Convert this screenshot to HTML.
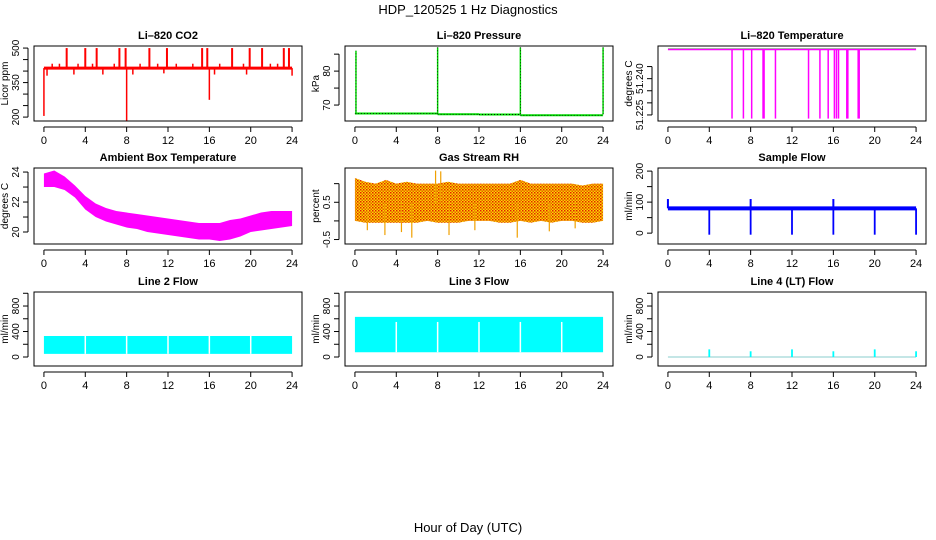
<!DOCTYPE html>
<html><head><meta charset="utf-8"><style>
body{margin:0;background:#fff}
svg{display:block;font-family:"Liberation Sans",sans-serif}
</style></head><body>
<svg id="c" width="936" height="540" viewBox="0 0 936 540" xmlns="http://www.w3.org/2000/svg">
<text x="468" y="14" font-size="13" text-anchor="middle">HDP_120525  1 Hz Diagnostics</text>
<text x="468" y="532" font-size="13" text-anchor="middle">Hour of Day (UTC)</text>
</svg>
<script>
const hours=[0,4,8,12,16,20,24];
const co2Base=413;
const co2Spikes=[2.2,4.0,5.1,7.3,7.9,10.2,11.9,15.3,15.8,18.2,19.9,21.1,23.2,23.7];
const co2Small=[0.8,1.5,3.3,4.7,6.8,9.3,11.0,12.8,14.4,17.0,19.3,21.9,22.6];
const co2Dips=[[0,205],[8,183],[16,275],[0.3,380],[2.9,385],[5.7,385],[8.6,385],[11.6,390],[16.5,385],[19.6,385],[24,380]];
const presBase=[67.5,67.5,67.3,67.2,67.0,67.0,67.2];
const presSpikes=[[0.1,86],[8,87],[16,87],[24,87]];
const tempBase=51.252;
const tempDrops=[6.2,7.3,8.1,9.2,9.3,10.4,13.6,14.7,15.5,16.1,16.3,16.5,17.3,17.4,18.4,18.5];
const ambHours=[0,1,2,3,4,5,6,7,8,9,10,11,12,13,14,15,16,17,18,19,20,21,22,23,24];
const ambUpper=[23.9,24.1,23.7,23.1,22.4,21.9,21.6,21.4,21.3,21.2,21.1,21.0,20.9,20.8,20.7,20.6,20.6,20.6,20.8,20.9,21.1,21.3,21.4,21.4,21.4];
const ambLower=[23.0,23.0,22.8,22.3,21.5,21.0,20.7,20.5,20.3,20.2,20.0,19.9,19.8,19.7,19.6,19.5,19.5,19.4,19.5,19.7,20.0,20.1,20.2,20.3,20.4];
const rhUpper=[1.15,1.05,1.0,1.1,1.0,1.05,1.0,1.0,1.0,1.05,1.0,1.0,1.0,1.0,1.0,1.0,1.1,1.0,1.0,1.0,1.0,1.0,0.95,1.0,1.0];
const rhLower=[0.0,-0.05,-0.05,-0.05,-0.05,-0.05,-0.05,0,-0.05,-0.05,-0.05,0,0,0,-0.05,-0.05,0,-0.05,0,-0.05,0,0,-0.05,-0.05,0];
const rhSpikes=[[1.2,-0.25],[2.9,-0.38],[4.5,-0.3],[5.5,-0.45],[7.8,1.35],[8.3,1.33],[9.1,-0.38],[11.6,-0.25],[15.7,-0.45],[18.8,-0.28],[21.3,-0.2]];
const sfBase=80;
const sfDips=[4,8,12,16,20,24];
const sfPeaks=[[0,110],[8,110],[16,110]];
const l2Upper=330, l2Lower=50;
const l3Upper=630, l3Lower=75;
const gapHours=[4,8,12,16,20];
const l4Spikes=[[4,120],[12,120],[20,120],[8,90],[16,90],[24,90]];

const svg=document.getElementById('c');
const NS='http://www.w3.org/2000/svg';
function el(t,a,p){const e=document.createElementNS(NS,t);for(const k in a)e.setAttribute(k,a[k]);(p||svg).appendChild(e);return e;}
const cols=[{l:34,r:302},{l:345,r:613},{l:658,r:926}];
const rows=[{t:46,b:121},{t:168,b:244},{t:292,b:366}];
function panel(ci,ri,title,ylab,ymin,ymax,ticks,labels,name){
  const c=cols[ci],r=rows[ri];
  const g=el('g',{});
  
  
  const x0=c.l+(c.r-c.l)*0.04/1.08, x1=c.r-(c.r-c.l)*0.04/1.08;
  const X=h=>x0+(x1-x0)*h/24;
  const Y=v=>r.b-(v-ymin)/(ymax-ymin)*(r.b-r.t);
  const t=el('text',{x:(c.l+c.r)/2,y:r.t-7,'font-size':11,'font-weight':'bold','text-anchor':'middle'},g);t.textContent=title;
  
  const marks=el('g',{},g);
  el('rect',{x:c.l,y:r.t,width:c.r-c.l,height:r.b-r.t,fill:'none',stroke:'#000','stroke-width':1},g);
  const xa=el('g',{},g);
  
  el('line',{x1:X(0),x2:X(24),y1:r.b+6,y2:r.b+6,stroke:'#000'},xa);
  hours.forEach(h=>{el('line',{x1:X(h),x2:X(h),y1:r.b+6,y2:r.b+11,stroke:'#000'},xa);
    const tt=el('text',{x:X(h),y:r.b+23,'font-size':11,'text-anchor':'middle'},xa);tt.textContent=h;});
  const ya=el('g',{},g);
  
  el('line',{x1:c.l-6,x2:c.l-6,y1:Y(ticks[0]),y2:Y(ticks[ticks.length-1]),stroke:'#000'},ya);
  ticks.forEach(v=>el('line',{x1:c.l-6,x2:c.l-11,y1:Y(v),y2:Y(v),stroke:'#000'},ya));
  labels.forEach(v=>{const tt=el('text',{x:c.l-15,y:Y(v),'font-size':10,'text-anchor':'middle',transform:`rotate(-90 ${c.l-15} ${Y(v)})`},ya);tt.textContent=v;});
  const yl=el('text',{x:c.l-26,y:(r.t+r.b)/2,'font-size':10,'text-anchor':'middle',transform:`rotate(-90 ${c.l-26} ${(r.t+r.b)/2})`},g);yl.textContent=ylab;
  
  return {X,Y,g:marks};
}
function vl(p,h,a,b,col,w){const l=el('line',{x1:p.X(h),x2:p.X(h),y1:p.Y(a),y2:p.Y(b),stroke:col,'stroke-width':w||1.5},p.g);
  }
function hl(p,a,b,v,col,w){const l=el('line',{x1:p.X(a),x2:p.X(b),y1:p.Y(v),y2:p.Y(v),stroke:col,'stroke-width':w||2},p.g);
  }
function band(p,hs,up,lo,fill){let pts=hs.map((h,i)=>p.X(h)+','+p.Y(up[i]));pts=pts.concat(hs.slice().reverse().map((h,i)=>p.X(h)+','+p.Y(lo[hs.length-1-i])));
  const e=el('polygon',{points:pts.join(' '),fill:fill},p.g);}

// CO2
let p=panel(0,0,'Li\u2013820 CO2','Licor ppm',183,509,[200,250,300,350,400,450,500],[200,350,500],'co2');
hl(p,0,24,co2Base,'red',3);
co2Spikes.forEach(h=>vl(p,h,co2Base,500,'red',2));
co2Small.forEach(h=>vl(p,h,co2Base,432,'red',1.5));
co2Dips.forEach(d=>vl(p,d[0],co2Base,d[1],'red',1.5));
// Pressure
p=panel(1,0,'Li\u2013820 Pressure','kPa',65.3,87.4,[70,75,80,85],[70,80],'pressure');
const ph=[0,4,8,12,16,20,24];
for(let i=0;i<ph.length-1;i++){hl(p,ph[i],ph[i+1],presBase[i],'#00e000',2);}
for(let i=0;i<ph.length-1;i++){el('line',{x1:p.X(ph[i]),x2:p.X(ph[i+1]),y1:p.Y(presBase[i]),y2:p.Y(presBase[i]),stroke:'#000','stroke-width':0.8,'stroke-dasharray':'1 2'},p.g);}
presSpikes.forEach(s=>{vl(p,s[0],67.3,s[1],'#00e000',1.5);el('line',{x1:p.X(s[0]),x2:p.X(s[0]),y1:p.Y(67.3),y2:p.Y(s[1]),stroke:'#000','stroke-width':0.7,'stroke-dasharray':'1 2'},p.g);});
// Temperature
p=panel(2,0,'Li\u2013820 Temperature','degrees C',51.2225,51.2535,[51.225,51.23,51.235,51.24,51.245],['51.225','51.240'],'temperature');
hl(p,0,24,tempBase,'magenta',1.2);
el('line',{x1:p.X(0),x2:p.X(24),y1:p.Y(tempBase)-1,y2:p.Y(tempBase)-1,stroke:'#555','stroke-width':0.6},p.g);
tempDrops.forEach(h=>vl(p,h,tempBase,51.2235,'magenta',1.5));
// Ambient
p=panel(0,1,'Ambient Box Temperature','degrees C',19.2,24.27,[20,21,22,23,24],[20,22,24],'ambient');
band(p,ambHours,ambUpper,ambLower,'magenta');
// RH
p=panel(1,1,'Gas Stream RH','percent',-0.62,1.42,[-0.5,0,0.5,1],[-0.5,0.5],'rh');
const pat=el('pattern',{id:'rhp',width:3,height:3,patternUnits:'userSpaceOnUse'},el('defs',{}));
el('rect',{width:3,height:3,fill:'#ffd800'},pat);el('rect',{width:1.5,height:1.5,fill:'#e02000'},pat);el('rect',{x:1.5,y:1.5,width:1.5,height:1.5,fill:'#e06000'},pat);
band(p,ambHours,rhUpper,rhLower,'url(#rhp)');
rhSpikes.forEach(s=>vl(p,s[0],0.5,s[1],'#f0a000',1.2));
// Sample flow
p=panel(2,1,'Sample Flow','ml/min',-35,210,[0,50,100,150,200],[0,100,200],'sample-flow');
hl(p,0,24,sfBase,'blue',4);
sfDips.forEach(h=>vl(p,h,sfBase,-5,'blue',1.8));
sfPeaks.forEach(s=>vl(p,s[0],sfBase,s[1],'blue',2));
// Line 2
p=panel(0,2,'Line 2 Flow','ml/min',-141,1020,[0,200,400,600,800,1000],[0,400,800],'line2');
band(p,[0,24],[l2Upper,l2Upper],[l2Lower,l2Lower],'cyan');
gapHours.forEach(h=>vl(p,h,l2Upper+10,l2Lower,'#fff',1.5));
// Line 3
p=panel(1,2,'Line 3 Flow','ml/min',-141,1020,[0,200,400,600,800,1000],[0,400,800],'line3');
band(p,[0,24],[l3Upper,l3Upper],[l3Lower,l3Lower],'cyan');
gapHours.forEach(h=>vl(p,h,l3Upper-80,l3Lower,'#fff',1.5));
// Line 4
p=panel(2,2,'Line 4 (LT) Flow','ml/min',-141,1020,[0,200,400,600,800,1000],[0,400,800],'line4');
hl(p,0,24,0,'#a0d8d8',1.2);
l4Spikes.forEach(s=>vl(p,s[0],0,s[1],'cyan',1.8));
</script>
</body></html>
